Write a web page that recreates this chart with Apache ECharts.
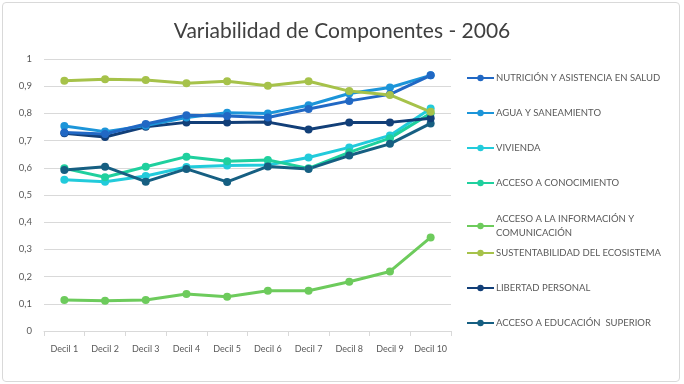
<!DOCTYPE html>
<html><head><meta charset="utf-8">
<script src="https://cdn.jsdelivr.net/npm/echarts@6/dist/echarts.min.js"></script>
<style>html,body{margin:0;padding:0;background:#fff}#c{width:684px;height:384px}</style>
</head><body><div id="c"></div>
<script>
const categories = ['Decil 1','Decil 2','Decil 3','Decil 4','Decil 5','Decil 6','Decil 7','Decil 8','Decil 9','Decil 10'];
const nutricion = [0.730,0.724,0.761,0.793,0.790,0.785,0.816,0.846,0.870,0.940];
const agua = [0.754,0.733,0.755,0.785,0.802,0.800,0.830,0.873,0.895,0.940];
const vivienda = [0.556,0.549,0.570,0.603,0.608,0.610,0.638,0.675,0.719,0.818];
const conocimiento = [0.598,0.565,0.604,0.641,0.624,0.629,0.598,0.657,0.709,0.800];
const informacion = [0.114,0.111,0.114,0.136,0.126,0.148,0.148,0.181,0.219,0.344];
const sustentabilidad = [0.920,0.926,0.923,0.911,0.918,0.902,0.918,0.882,0.868,0.806];
const libertad = [0.727,0.713,0.751,0.767,0.767,0.768,0.741,0.767,0.767,0.782];
const educacion = [0.592,0.604,0.549,0.596,0.548,0.605,0.596,0.645,0.688,0.763];
const seriesNames = ['NUTRICIÓN Y ASISTENCIA EN SALUD','AGUA Y SANEAMIENTO','VIVIENDA','ACCESO A CONOCIMIENTO','ACCESO A LA INFORMACIÓN Y COMUNICACIÓN','SUSTENTABILIDAD DEL ECOSISTEMA','LIBERTAD PERSONAL','ACCESO A EDUCACIÓN  SUPERIOR'];
const seriesData = [nutricion, agua, vivienda, conocimiento, informacion, sustentabilidad, libertad, educacion];
const colors = ['#2168C4','#1C95D9','#22CBDB','#1FD09E','#6DCB5C','#A6C24A','#123F78','#165F82'];
const legendTops = [71,106,141,176,212,246,281,316];
const order = [4,2,3,7,6,1,0,5];

const chart = echarts.init(document.getElementById('c'), null, {renderer:'canvas'});
const font = 'Lato, "Open Sans", sans-serif';
const legends = seriesNames.map((n,i)=>({
  data:[n], left:466, top:legendTops[i], orient:'vertical', itemWidth:27, itemHeight:8, itemGap:0, padding:0,
  formatter: n === 'ACCESO A LA INFORMACIÓN Y COMUNICACIÓN' ? 'ACCESO A LA INFORMACIÓN Y\nCOMUNICACIÓN' : '{name}',
  textStyle:{color:'#595959', fontSize:9.5, fontFamily:font, lineHeight:14, padding:[0,0,0,-3]}
}));
chart.setOption({
  animation:false,
  color: colors,
  title:{text:'Variabilidad de Componentes - 2006', left:'center', top:16, textStyle:{fontFamily:font, fontWeight:'normal', fontSize:21, color:'#404040'}},
  legend: legends,
  grid:{left:44, right:233, top:59, bottom:53},
  xAxis:{type:'category', data:categories, boundaryGap:true,
    axisLine:{lineStyle:{color:'#d9d9d9'}}, axisTick:{show:true, length:5, lineStyle:{color:'#d9d9d9'}},
    axisLabel:{color:'#595959', fontSize:9, fontFamily:font, margin:14, interval:0}},
  yAxis:{type:'value', min:0, max:1, interval:0.1,
    axisLine:{show:false}, axisTick:{show:false},
    splitLine:{lineStyle:{color:'#d9d9d9'}},
    axisLabel:{color:'#595959', fontSize:9.5, fontFamily:font, margin:12,
      formatter:v=> (Math.round(v*10)/10).toString().replace('.',',')}},
  series: order.map(i=>({
    name: seriesNames[i], type:'line', data: seriesData[i],
    symbol:'circle', symbolSize:8, lineStyle:{width:3, color:colors[i]}, itemStyle:{color:colors[i]}
  }))
});
</script>
<div style="position:absolute;left:2px;top:2px;width:676px;height:378px;border:1px solid #d9d9d9;border-radius:4px;pointer-events:none"></div>
</body></html>
